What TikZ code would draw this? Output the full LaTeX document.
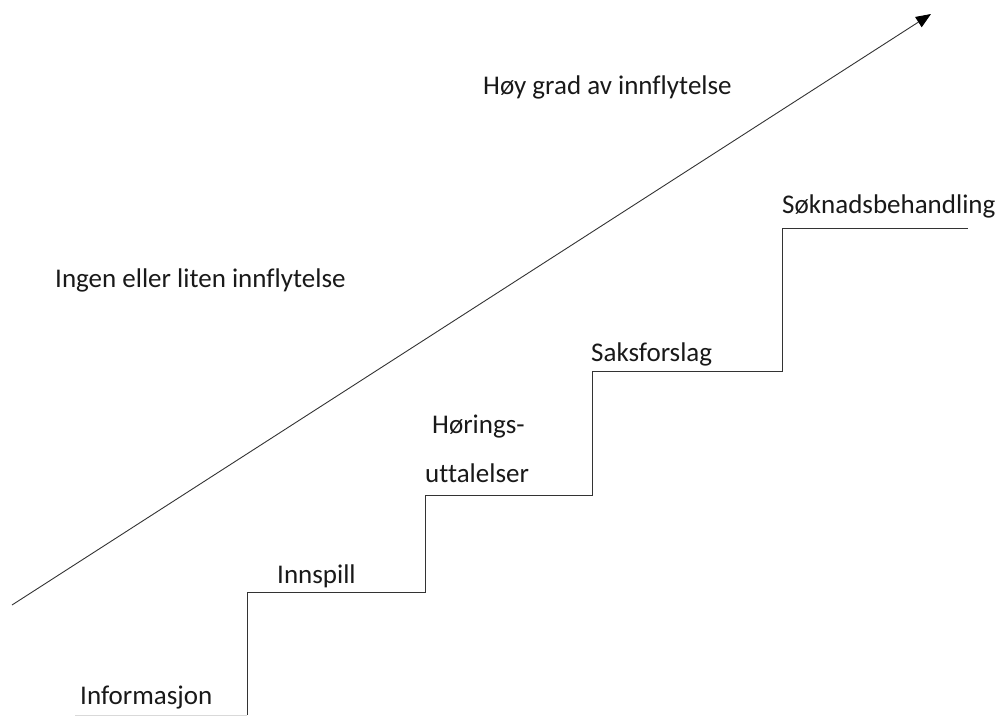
\documentclass[tikz,border=0pt]{standalone}
\usepackage{fontspec}
\setmainfont{Carlito}[Ligatures=NoCommon]
\usetikzlibrary{arrows.meta}
\begin{document}
\begin{tikzpicture}[x=1pt,y=-1pt,
  lbl/.style={anchor=base west,inner sep=0pt,font=\fontsize{27}{32}\selectfont,text=black!90},
  stair/.style={draw=black!80,line width=0.9pt},
  arr/.style={draw=black!80,line width=0.9pt,-{Triangle[length=15pt,width=12pt,fill=black,color=black]}}]
\useasboundingbox (0,0) rectangle (997,716);
% staircase
\draw[draw=black!15,line width=1pt] (75,715) -- (247,715);
\draw[stair] (247,715) -- (247,592) -- (425,592) -- (425,495) -- (592,495) -- (592,371) -- (782,371) -- (782,228) -- (968,228);
% arrow
\coordinate (a0) at (12,605);
\coordinate (a1) at (931,14);
\draw[arr] (a0) -- (a1);
% labels
\node[lbl] (hoy) at (483,94) {Høy grad av innflytelse};
\node[lbl] (ingen) at (55,287) {Ingen eller liten innflytelse};
\node[lbl] (sok) at (782,213) {Søknadsbehandling};
\node[lbl] (saks) at (591,361) {Saksforslag};
\node[lbl] (hor) at (432,433) {Hørings-};
\node[lbl] (utt) at (425,482) {uttalelser};
\node[lbl] (inn) at (277,583) {Innspill};
\node[lbl] (inf) at (80,704) {Informasjon};
\end{tikzpicture}
\end{document}
